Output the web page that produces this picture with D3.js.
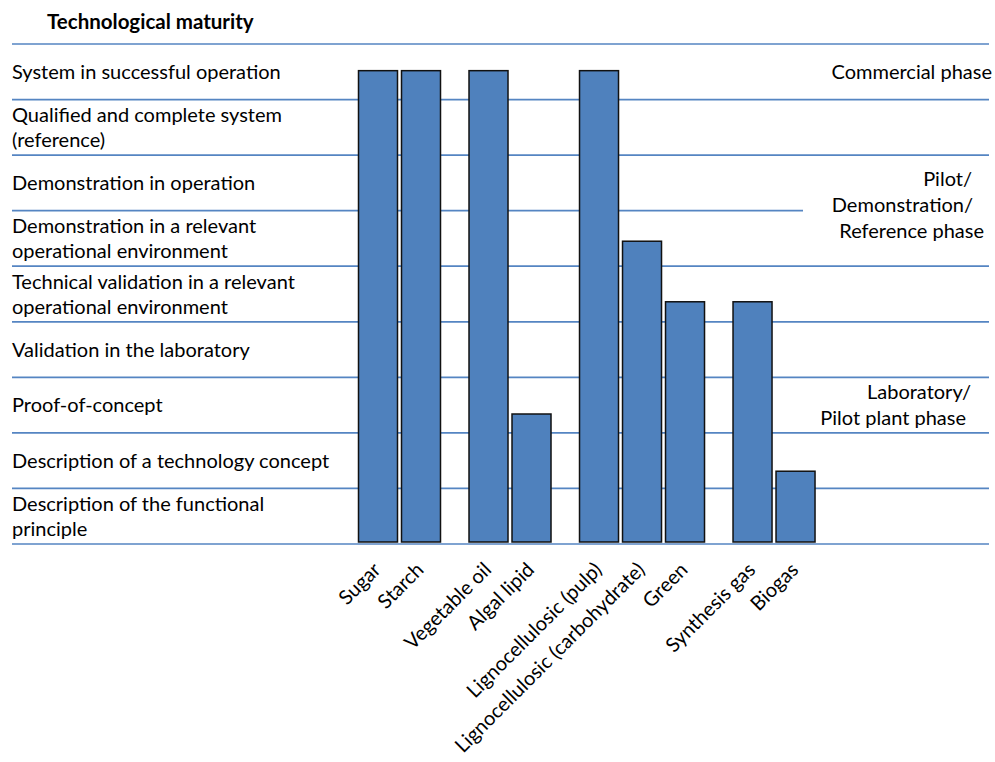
<!DOCTYPE html>
<html><head><meta charset="utf-8">
<script src="https://cdn.jsdelivr.net/npm/d3@7"></script>
<style>
body{margin:0;background:#fff}
text{font-family:Lato,'Noto Sans',sans-serif;fill:#000}
</style>
</head><body><svg id="chart" width="995" height="762"></svg>
<script>
// ---- data ----
const categories = ["Sugar","Starch","Vegetable oil","Algal lipid","Lignocellulosic (pulp)","Lignocellulosic (carbohydrate)","Green","Synthesis gas","Biogas"];
const feedstockGroup = [0,0,1,1,2,2,2,3,3];
const maturity = [8.52,8.52,8.52,2.34,8.52,5.45,4.36,4.36,1.31];
const levelLabels = [
  ["Description of the functional","principle"],
  ["Description of a technology concept"],
  ["Proof-of-concept"],
  ["Validation in the laboratory"],
  ["Technical validation in a relevant","operational environment"],
  ["Demonstration in a relevant","operational environment"],
  ["Demonstration in operation"],
  ["Qualified and complete system","(reference)"],
  ["System in successful operation"]
];
const phaseLabels = [
  ["Commercial phase"],
  ["Pilot/","Demonstration/","Reference phase"],
  ["Laboratory/","Pilot plant phase"]
];
const phaseLevels = [8.5, 6.1, 2.5];
const levelTicks = d3.range(0, 10);
const title = "Technological maturity";

// ---- layout ----
const svg = d3.select("#chart");
const y = d3.scaleLinear().domain([0, 9]).range([544, 44]);
const gapUnits = 0.57;
const pos = categories.map((c, i) => i + feedstockGroup[i] * gapUnits);
const x = d3.scaleLinear().domain([0, 1]).range([358.5, 401.5]);
const barW = 39;
const gridColor = "#5585c2";
const fs = 20;

// gridlines
svg.append("g").selectAll("line").data(levelTicks).join("line")
  .attr("x1", 12)
  .attr("x2", d => d === 6 ? 803 : 989)
  .attr("y1", d => y(d)).attr("y2", d => y(d))
  .attr("stroke", gridColor).attr("stroke-width", 1.7);

// title
svg.append("text").attr("x", 47).attr("y", 29)
  .attr("font-weight", "bold").attr("font-size", 20.5).text(title);

// level labels (centered in rows)
const lh = 25;
const lg = svg.append("g").attr("font-size", fs);
levelLabels.forEach((lines, i) => {
  const cy = y(i + 0.5);
  const first = cy + 7 - (lines.length - 1) * lh / 2;
  const t = lg.append("text").attr("x", 12);
  lines.forEach((s, k) => t.append("tspan").attr("x", 12).attr("y", first + k * lh).text(s));
});

// phase labels
const phaseRight = [[992],[972,973,984],[971,966]];
const pg = svg.append("g").attr("font-size", fs).attr("text-anchor", "end");
phaseLabels.forEach((lines, i) => {
  const cy = y(phaseLevels[i]);
  const lh2 = 26;
  const first = cy + 7 - (lines.length - 1) * lh2 / 2;
  const t = pg.append("text");
  lines.forEach((s, k) => t.append("tspan").attr("x", phaseRight[i][k]).attr("y", first + k * lh2).text(s));
});

// bars
svg.append("g").selectAll("rect").data(categories).join("rect")
  .attr("x", (d, i) => x(pos[i]))
  .attr("width", barW)
  .attr("y", (d, i) => y(maturity[i]))
  .attr("height", (d, i) => y(0) - 2 - y(maturity[i]))
  .attr("fill", "#4f81bd")
  .attr("stroke", "#111").attr("stroke-width", 1.5);

// category labels
svg.append("g").attr("font-size", fs).selectAll("text").data(categories).join("text")
  .attr("text-anchor", "end")
  .attr("transform", (d, i) => `translate(${x(pos[i]) + barW / 2 + 4},571) rotate(-45)`)
  .text(d => d);
</script>
</body></html>
